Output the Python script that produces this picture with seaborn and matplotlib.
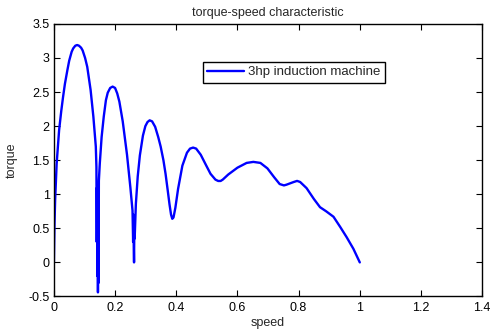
import matplotlib
matplotlib.use("Agg")
import matplotlib.pyplot as plt
import seaborn as sns
import pandas as pd

# Readings of the curve (speed, torque)
speed = [0.000, 0.001, 0.002, 0.004, 0.009, 0.017, 0.024, 0.030, 0.036, 0.044, 0.050,
         0.058, 0.063, 0.070, 0.076, 0.082, 0.089, 0.094, 0.102, 0.109, 0.120,
         0.129, 0.137, 0.139,
         0.140, 0.141, 0.142, 0.143, 0.144, 0.145, 0.146, 0.147,
         0.150, 0.156, 0.163, 0.170, 0.176, 0.184, 0.192, 0.200, 0.207, 0.214,
         0.225, 0.239, 0.250, 0.257, 0.259, 0.260, 0.261, 0.262, 0.263, 0.264,
         0.268, 0.274, 0.281, 0.291, 0.299, 0.306, 0.313, 0.321, 0.331, 0.341,
         0.349, 0.358, 0.365, 0.372, 0.378, 0.383, 0.387, 0.391, 0.397, 0.406,
         0.420, 0.435, 0.445, 0.455, 0.465, 0.480, 0.497, 0.512, 0.528, 0.537,
         0.545, 0.552, 0.570, 0.600, 0.630, 0.652, 0.675, 0.698, 0.720, 0.738,
         0.752, 0.760, 0.784, 0.795, 0.805, 0.826, 0.850, 0.870, 0.890, 0.914,
         0.936, 0.957, 0.979, 1.000]
torque = [0.00, 0.30, 0.57, 0.91, 1.45, 1.94, 2.22, 2.43, 2.62, 2.82, 2.96,
          3.09, 3.14, 3.18, 3.19, 3.18, 3.15, 3.11, 3.00, 2.87, 2.53,
          2.14, 1.70, 1.40,
          0.30, 1.10, -0.20, 1.00, -0.44, 0.90, -0.30, 1.20,
          1.45, 1.84, 2.14, 2.38, 2.49, 2.56, 2.58, 2.56, 2.48, 2.36,
          2.07, 1.58, 1.10, 0.76, 0.30, 0.70, 0.25, 0.00, 0.60, 0.35,
          0.86, 1.26, 1.57, 1.86, 2.00, 2.06, 2.085, 2.07, 1.99, 1.84,
          1.70, 1.50, 1.30, 1.06, 0.85, 0.70, 0.64, 0.66, 0.80, 1.08,
          1.42, 1.61, 1.67, 1.685, 1.67, 1.58, 1.43, 1.30, 1.215, 1.195,
          1.195, 1.215, 1.29, 1.39, 1.46, 1.475, 1.46, 1.38, 1.25, 1.15,
          1.13, 1.14, 1.18, 1.196, 1.18, 1.09, 0.93, 0.81, 0.75, 0.67,
          0.52, 0.37, 0.20, 0.00]

series_label = "3hp induction machine"
title_text = "torque-speed characteristic"
x_label = "speed"
y_label = "torque"
x_ticks = [0, 0.2, 0.4, 0.6, 0.8, 1.0, 1.2, 1.4]
x_tick_labels = ["0", "0.2", "0.4", "0.6", "0.8", "1", "1.2", "1.4"]
y_ticks = [-0.5, 0, 0.5, 1, 1.5, 2, 2.5, 3, 3.5]
y_tick_labels = ["-0.5", "0", "0.5", "1", "1.5", "2", "2.5", "3", "3.5"]

sns.set_style("white")
plt.rcParams['font.family'] = ['Liberation Sans', 'DejaVu Sans']

df = pd.DataFrame({"speed": speed, "torque": torque, "series": series_label})

fig = plt.figure(figsize=(4.9, 3.32), dpi=100)
ax = fig.add_axes([0.110, 0.107, 0.874, 0.821])

sns.lineplot(data=df, x="speed", y="torque", hue="series", palette=["#0000ff"],
             sort=False, estimator=None, linewidth=1.7, ax=ax)

ax.set_xlim(0, 1.4)
ax.set_ylim(-0.5, 3.5)
ax.set_xticks(x_ticks)
ax.set_xticklabels(x_tick_labels)
ax.set_yticks(y_ticks)
ax.set_yticklabels(y_tick_labels)
ax.tick_params(direction="in", length=4, width=0.8, colors="black", labelsize=9,
               top=True, right=True, bottom=True, left=True)
ax.tick_params(axis="x", pad=4)
ax.tick_params(axis="y", pad=3)
for s in ax.spines.values():
    s.set_color("black")
    s.set_linewidth(1.0)
    s.set_visible(True)

ax.set_title(title_text, fontsize=9, pad=6)
ax.set_xlabel(x_label, fontsize=9, labelpad=2)
ax.set_ylabel(y_label, fontsize=9, labelpad=8)

leg = ax.legend(loc="upper left", bbox_to_anchor=(0.347, 0.862), fontsize=9.5,
                frameon=True, fancybox=False, handlelength=2.8, handletextpad=0.3,
                borderpad=0.35, borderaxespad=0)
leg.get_frame().set_edgecolor("black")
leg.get_frame().set_linewidth(1.0)
leg.get_frame().set_alpha(1)
for l in leg.get_lines():
    l.set_linewidth(1.7)

fig.savefig("out.png", dpi=100)
